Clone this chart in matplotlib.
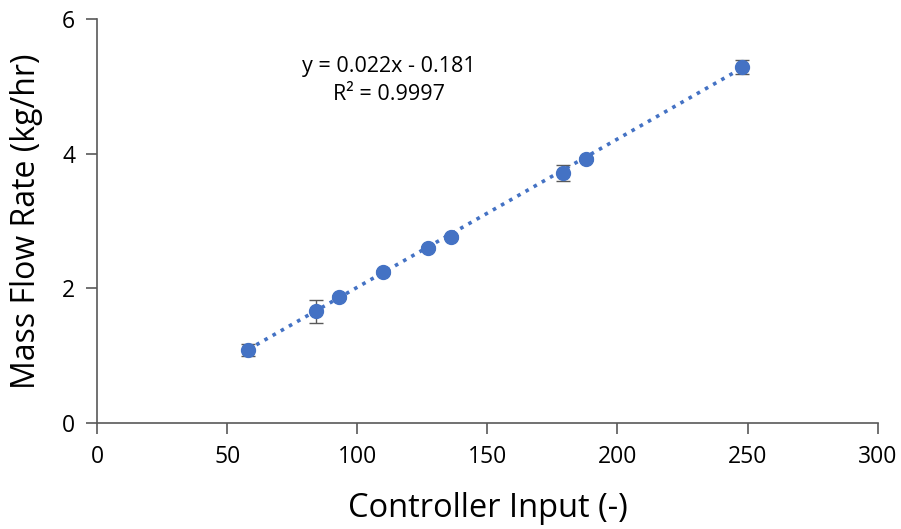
import numpy as np
import matplotlib.pyplot as plt

plt.rcParams['font.family'] = ['Open Sans', 'DejaVu Sans']

controller_input = [58, 84, 93, 110, 127, 136, 179, 188, 248]
mass_flow = [1.09, 1.66, 1.88, 2.24, 2.60, 2.77, 3.71, 3.92, 5.29]
mass_flow_err = [0.09, 0.17, 0.03, 0.03, 0.03, 0.03, 0.12, 0.03, 0.10]
fit_slope = 0.022
fit_intercept = -0.181

blue = '#4472C4'
grey = '#595959'

fig = plt.figure(figsize=(9.01, 5.29), dpi=100)
ax = fig.add_axes([0.108, 0.200, 0.866, 0.764])

xf = np.array([min(controller_input), max(controller_input)])
ax.plot(xf, fit_slope * xf + fit_intercept, linestyle=(0, (1, 1.6)),
        color=blue, linewidth=2.6, zorder=2)
ax.errorbar(controller_input, mass_flow, yerr=mass_flow_err, fmt='o',
            color=blue, markersize=10, ecolor=grey, elinewidth=1,
            capsize=5, capthick=1, zorder=3)

ax.text(112, 5.30, 'y = 0.022x - 0.181', ha='center', va='center', fontsize=15.5)
ax.text(112, 4.88, 'R² = 0.9997', ha='center', va='center', fontsize=15.5)

ax.set_xlim(0, 300)
ax.set_ylim(0, 6)
ax.set_xticks([0, 50, 100, 150, 200, 250, 300])
ax.set_yticks([0, 2, 4, 6])
ax.spines['top'].set_visible(False)
ax.spines['right'].set_visible(False)
for s in ('left', 'bottom'):
    ax.spines[s].set_color(grey)
    ax.spines[s].set_linewidth(1.2)
ax.tick_params(direction='out', length=8, width=1.2, color=grey,
               labelsize=16.5, pad=8)
ax.set_xlabel('Controller Input (-)', fontsize=23.5, labelpad=16)
ax.set_ylabel('Mass Flow Rate (kg/hr)', fontsize=23, labelpad=14)

plt.savefig('out.png', dpi=100)
